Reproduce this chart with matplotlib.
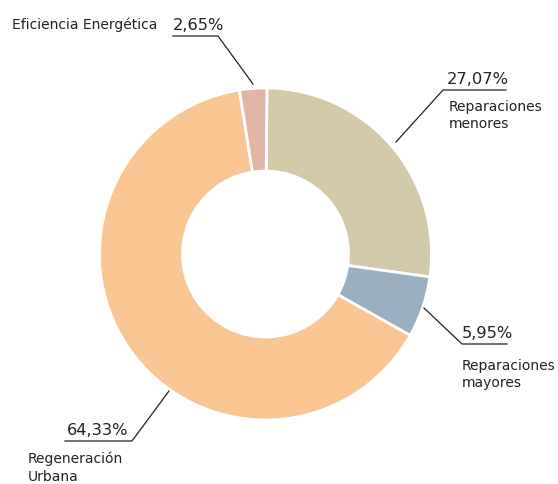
import matplotlib
matplotlib.use("Agg")
import matplotlib.pyplot as plt

categories = ["Reparaciones\nmenores", "Reparaciones\nmayores", "Regeneración\nUrbana", "Eficiencia Energética"]
values = [27.07, 5.95, 64.33, 2.65]
pct_labels = ["27,07%", "5,95%", "64,33%", "2,65%"]
colors = ["#D1C9A7", "#9AAFBF", "#F9C592", "#E2B5A4"]

W, H = 558, 484
fig = plt.figure(figsize=(W / 100, H / 100), dpi=100)
ax = fig.add_axes([0, 0, 1, 1])

cx, cy, R = 265.5, H - 254, 166
ax.pie(values, colors=colors, startangle=89.5, counterclock=False,
       center=(cx, cy), radius=R, frame=True,
       wedgeprops=dict(width=R * 0.5, edgecolor="white", linewidth=2))
ax.set_xlim(0, W)
ax.set_ylim(0, H)
ax.set_aspect("equal")
ax.axis("off")

def py(y):
    return H - y

# leader lines: (start, elbow, end) in pixel coords
leaders = [
    [(396, 142), (443, 90), (506, 90)],
    [(424, 308), (462, 344), (507, 344)],
    [(169, 391), (132, 441), (65, 441)],
    [(253, 84), (218, 36), (173, 36)],
]
for pts in leaders:
    xs = [p[0] for p in pts]
    ys = [py(p[1]) for p in pts]
    ax.plot(xs, ys, color="#222222", lw=0.9)

pct_pos = [(447, 87), (462, 341), (67, 438), (173, 33)]
cat_pos = [(449, 100), (462, 359), (28, 452), (12, 32)]
fs_pct = 11.7
fs_cat = 10
for i in range(4):
    x, y = pct_pos[i]
    ax.text(x, py(y), pct_labels[i], fontsize=fs_pct, color="#222222",
            ha="left", va="bottom", family="DejaVu Sans")
    x, y = cat_pos[i]
    if i == 3:
        ax.text(x, py(y), categories[i], fontsize=fs_cat, color="#222222",
                ha="left", va="bottom", family="DejaVu Sans")
    else:
        ax.text(x, py(y), categories[i], fontsize=fs_cat, color="#222222",
                ha="left", va="top", family="DejaVu Sans", linespacing=1.3)

fig.savefig("out.png", dpi=100)
